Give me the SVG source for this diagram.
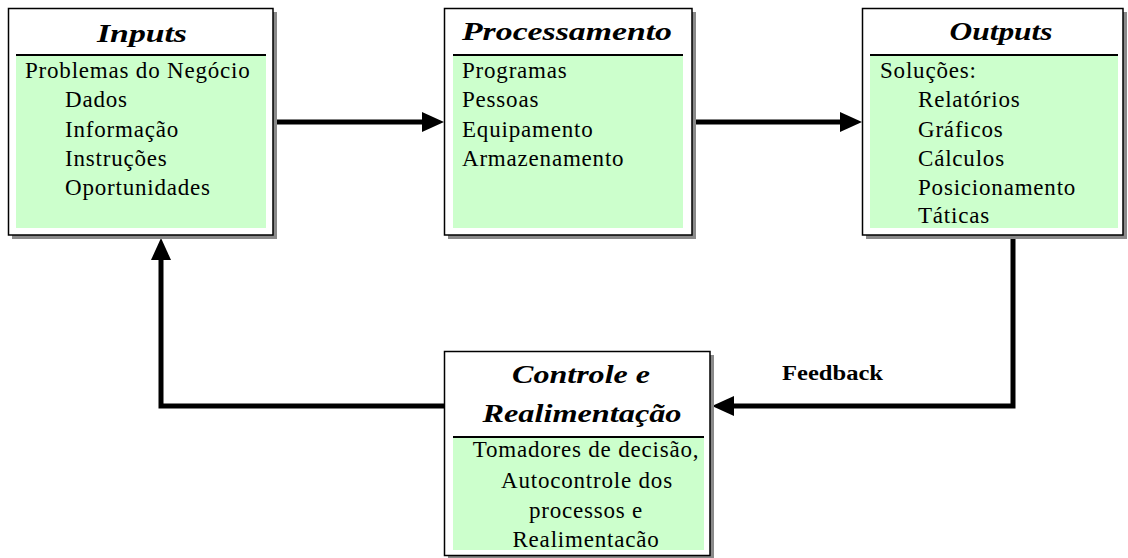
<svg xmlns="http://www.w3.org/2000/svg" width="1128" height="558" viewBox="0 0 1128 558">
<style>
.shadow{fill:#8a8a8a}
.box{fill:#ffffff;stroke:#000;stroke-width:1.5}
.body{fill:#ccffcc}
.sep{stroke:#000;stroke-width:2}
.title{font-family:"Liberation Serif","Times New Roman",serif;font-weight:bold;font-style:italic;font-size:26px;fill:#000;text-anchor:middle}
.txt{font-family:"Liberation Serif","Times New Roman",serif;font-size:23px;letter-spacing:0.8px;fill:#000}
.ctr{text-anchor:middle}
.lbl{font-family:"Liberation Serif","Times New Roman",serif;font-weight:bold;font-size:20px;fill:#000}
.conn{fill:none;stroke:#000;stroke-width:5;stroke-linejoin:miter;marker-end:url(#arr)}
</style>
<defs>
<marker id="arr" markerUnits="userSpaceOnUse" markerWidth="22" markerHeight="20" refX="10" refY="10" orient="auto">
<path d="M0,0 L22,10 L0,20 z" fill="#000"/>
</marker>
</defs>
<rect width="1128" height="558" fill="#ffffff"/>

<g id="connectors">
<path class="conn" d="M273 122 H432"/>
<path class="conn" d="M692 122 H850"/>
<path class="conn" d="M1013 235 V406 H724"/>
<path class="conn" d="M444 406 H161 V250"/>
<text class="lbl" x="782" y="380" textLength="101" lengthAdjust="spacingAndGlyphs">Feedback</text>
</g>

<g id="inputs">
<rect class="shadow" x="12" y="12" width="265" height="227"/>
<rect class="box" x="8.5" y="8.5" width="264.5" height="226.5"/>
<rect class="body" x="16" y="56" width="250" height="172"/>
<line class="sep" x1="16" y1="55" x2="266" y2="55"/>
<text class="title" x="142" y="42" textLength="90" lengthAdjust="spacingAndGlyphs">Inputs</text>
<text class="txt" x="25" y="78">Problemas do Negócio</text>
<text class="txt" x="65" y="107">Dados</text>
<text class="txt" x="65" y="137">Informação</text>
<text class="txt" x="65" y="166">Instruções</text>
<text class="txt" x="65" y="195">Oportunidades</text>
</g>

<g id="processamento">
<rect class="shadow" x="448" y="12" width="248" height="227"/>
<rect class="box" x="444.5" y="8.5" width="247.5" height="226.5"/>
<rect class="body" x="453" y="56" width="230" height="172"/>
<line class="sep" x1="453" y1="55" x2="683" y2="55"/>
<text class="title" x="567" y="40" textLength="210" lengthAdjust="spacingAndGlyphs">Processamento</text>
<text class="txt" x="462" y="78">Programas</text>
<text class="txt" x="462" y="107">Pessoas</text>
<text class="txt" x="462" y="137">Equipamento</text>
<text class="txt" x="462" y="166">Armazenamento</text>
</g>

<g id="outputs">
<rect class="shadow" x="866" y="12" width="261" height="227"/>
<rect class="box" x="862.5" y="8.5" width="260.5" height="226.5"/>
<rect class="body" x="870" y="56" width="248" height="172"/>
<line class="sep" x1="870" y1="55" x2="1118" y2="55"/>
<text class="title" x="1001" y="40" textLength="103" lengthAdjust="spacingAndGlyphs">Outputs</text>
<text class="txt" x="880" y="78">Soluções:</text>
<text class="txt" x="918" y="107">Relatórios</text>
<text class="txt" x="918" y="137">Gráficos</text>
<text class="txt" x="918" y="166">Cálculos</text>
<text class="txt" x="918" y="195">Posicionamento</text>
<text class="txt" x="918" y="223">Táticas</text>
</g>

<g id="controle">
<rect class="shadow" x="448" y="355" width="266" height="210"/>
<rect class="box" x="444.5" y="351.5" width="265.5" height="204"/>
<rect class="body" x="453" y="438" width="251" height="112"/>
<line class="sep" x1="453" y1="437" x2="704" y2="437"/>
<text class="title" x="581" y="383" textLength="138" lengthAdjust="spacingAndGlyphs">Controle e</text>
<text class="title" x="582" y="422" textLength="199" lengthAdjust="spacingAndGlyphs">Realimentação</text>
<text class="txt ctr" x="586" y="457">Tomadores de decisão,</text>
<text class="txt ctr" x="587" y="488">Autocontrole dos</text>
<text class="txt ctr" x="586" y="518">processos e</text>
<text class="txt ctr" x="586" y="547">Realimentacão</text>
</g>
</svg>
